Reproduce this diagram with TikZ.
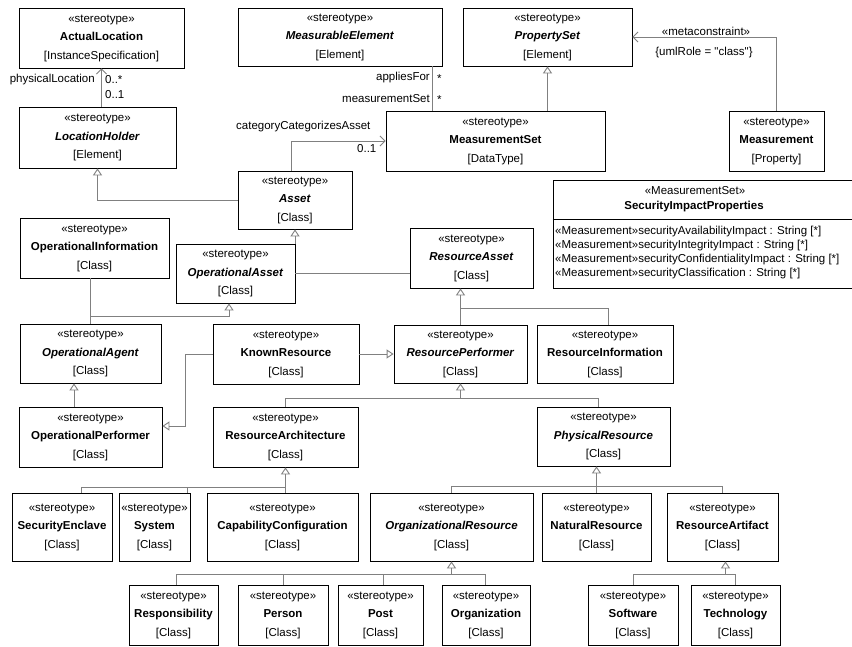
\documentclass[tikz,border=0pt]{standalone}
\usepackage{fontspec}
\setmainfont{Liberation Sans}
\usetikzlibrary{arrows.meta,calc}
\newcommand\ucls[3]{«#1»\\#2\\{}[#3]}
\newcommand\bn[1]{\textbf{#1}}
\newcommand\bi[1]{\textbf{\textit{#1}}}
\begin{document}
\begin{tikzpicture}[x=1pt,y=-1pt,
  cls/.style={draw=black, line width=0.8pt, fill=white, inner sep=0pt, align=center, font=\fontsize{11.5}{18.5}\selectfont},
  conn/.style={draw=gray, line width=0.9pt},
  gen/.style={conn, -{Triangle[length=7pt,width=9pt,fill=white]}},
  assoc/.style={conn, -{Straight Barb[length=5pt,width=10pt]}},
  lbl/.style={font=\fontsize{11.5}{13}\selectfont, inner sep=0pt},
]
\useasboundingbox (0,0) rectangle (852,646);
\fill[white] (0,0) rectangle (852,646);

% row 1
\node[cls, minimum width=165pt, minimum height=60pt] (actual) at (101.5,38) {\ucls{stereotype}{\bn{ActualLocation}}{InstanceSpecification}};
\node[cls, minimum width=204pt, minimum height=58pt] (measurable) at (340,37) {\ucls{stereotype}{\bi{MeasurableElement}}{Element}};
\node[cls, minimum width=169pt, minimum height=58pt] (propset) at (547.5,37) {\ucls{stereotype}{\bi{PropertySet}}{Element}};
% row 2
\node[cls, minimum width=157pt, minimum height=61pt] (locholder) at (97.5,137.5) {\ucls{stereotype}{\bi{LocationHolder}}{Element}};
\node[cls, minimum width=219pt, minimum height=60pt] (measset) at (495.5,141) {\ucls{stereotype}{\bn{MeasurementSet}}{DataType}};
\node[cls, minimum width=95pt, minimum height=60pt] (measurement) at (776.5,141) {\ucls{stereotype}{\bn{Measurement}}{Property}};
\node[cls, minimum width=114pt, minimum height=58pt] (asset) at (295,200) {\ucls{stereotype}{\bi{Asset}}{Class}};
% security impact properties
\node[draw=black, line width=0.8pt, fill=white, inner sep=0pt, minimum width=317pt, minimum height=108pt] (secimp) at (711.5,234) {};
\coordinate (sepy) at (0,219);
\draw[black, line width=0.8pt] (secimp.west |- sepy) -- (secimp.east |- sepy);
\node[lbl] (sh1) at (695,191) {«MeasurementSet»};
\node[lbl] (sh2) at (694,207) {\bn{SecurityImpactProperties}};
\node[lbl, anchor=west] (sa1) at (555,232) {«Measurement»securityAvailabilityImpact : String [*]};
\node[lbl, anchor=west] (sa2) at (555,246) {«Measurement»securityIntegrityImpact : String [*]};
\node[lbl, anchor=west] (sa3) at (555,260) {«Measurement»securityConfidentialityImpact : String [*]};
\node[lbl, anchor=west] (sa4) at (555,274) {«Measurement»securityClassification : String [*]};
% row 3
\node[cls, minimum width=149pt, minimum height=60pt] (opinfo) at (94.5,248) {\ucls{stereotype}{\bn{OperationalInformation}}{Class}};
\node[cls, minimum width=119pt, minimum height=59pt] (opasset) at (235.5,273.5) {\ucls{stereotype}{\bi{OperationalAsset}}{Class}};
\node[cls, minimum width=123pt, minimum height=60pt] (resasset) at (471.5,258) {\ucls{stereotype}{\bi{ResourceAsset}}{Class}};
% row 4
\node[cls, minimum width=141pt, minimum height=59pt] (opagent) at (90.5,353.5) {\ucls{stereotype}{\bi{OperationalAgent}}{Class}};
\node[cls, minimum width=146pt, minimum height=60pt] (known) at (286,354) {\ucls{stereotype}{\bn{KnownResource}}{Class}};
\node[cls, minimum width=133pt, minimum height=58pt] (resperf) at (460.5,354) {\ucls{stereotype}{\bi{ResourcePerformer}}{Class}};
\node[cls, minimum width=136pt, minimum height=58pt] (resinfo) at (605,354) {\ucls{stereotype}{\bn{ResourceInformation}}{Class}};
% row 5
\node[cls, minimum width=143pt, minimum height=60pt] (opperf) at (90.5,437) {\ucls{stereotype}{\bn{OperationalPerformer}}{Class}};
\node[cls, minimum width=145pt, minimum height=60pt] (resarch) at (285.5,437) {\ucls{stereotype}{\bn{ResourceArchitecture}}{Class}};
\node[cls, minimum width=133pt, minimum height=59pt] (physres) at (603.5,436.5) {\ucls{stereotype}{\bi{PhysicalResource}}{Class}};
% row 6
\node[cls, minimum width=100pt, minimum height=68pt] (secencl) at (62,527) {\ucls{stereotype}{\bn{SecurityEnclave}}{Class}};
\node[cls, minimum width=71pt, minimum height=68pt] (system) at (154.5,527) {\ucls{stereotype}{\bn{System}}{Class}};
\node[cls, minimum width=151pt, minimum height=68pt] (capconf) at (282.5,527) {\ucls{stereotype}{\bn{CapabilityConfiguration}}{Class}};
\node[cls, minimum width=163pt, minimum height=68pt] (orgres) at (451.5,527) {\ucls{stereotype}{\bi{OrganizationalResource}}{Class}};
\node[cls, minimum width=109pt, minimum height=68pt] (natres) at (596.5,527) {\ucls{stereotype}{\bn{NaturalResource}}{Class}};
\node[cls, minimum width=111pt, minimum height=68pt] (resart) at (722.5,527) {\ucls{stereotype}{\bn{ResourceArtifact}}{Class}};
% row 7
\node[cls, minimum width=89pt, minimum height=60pt] (resp) at (173.5,615) {\ucls{stereotype}{\bn{Responsibility}}{Class}};
\node[cls, minimum width=90pt, minimum height=60pt] (person) at (283,615) {\ucls{stereotype}{\bn{Person}}{Class}};
\node[cls, minimum width=85pt, minimum height=60pt] (post) at (380.5,615) {\ucls{stereotype}{\bn{Post}}{Class}};
\node[cls, minimum width=88pt, minimum height=60pt] (org) at (486,615) {\ucls{stereotype}{\bn{Organization}}{Class}};
\node[cls, minimum width=90pt, minimum height=60pt] (software) at (633,615) {\ucls{stereotype}{\bn{Software}}{Class}};
\node[cls, minimum width=89pt, minimum height=60pt] (tech) at (735.5,615) {\ucls{stereotype}{\bn{Technology}}{Class}};

% junction coordinates
\coordinate (yA) at (0,316);
\coordinate (yB) at (0,308);
\coordinate (yC) at (0,398);
\coordinate (yD) at (0,487);
\coordinate (yE) at (0,486);
\coordinate (yF) at (0,574);
\coordinate (kr) at (185,426);
\coordinate (ra) at ($(resasset.south)+(-11,0)$);
\coordinate (ri) at ($(resinfo.north)+(3,0)$);
\coordinate (oa) at ($(opasset.south)+(-6.5,0)$);
\coordinate (ag) at ($(opagent.south)+(-16.5,0)$);
\coordinate (pr) at ($(physres.north)+(-5.5,0)$);
\coordinate (se) at ($(secencl.north)+(19,0)$);
\coordinate (sy) at ($(system.north)+(33,0)$);
\coordinate (rp) at ($(resp.north)+(2.5,0)$);
\coordinate (og) at ($(org.north)+(-1,0)$);
\coordinate (po) at ($(post.north)+(2.5,0)$);
\coordinate (rt) at ($(resart.south)+(3,0)$);
\coordinate (at) at ($(asset.north)+(-4,0)$);
\coordinate (mtop) at ($(measurable.south east)+(-10,0)$);

% associations
\draw[assoc] (actual.south |- locholder.north) -- (actual.south);
\node[lbl, anchor=east] (lpl) at (95,80) {physicalLocation};
\node[lbl, anchor=west] (lm1) at (105,80) {0..*};
\node[lbl, anchor=west] (lm2) at (105,95) {0..1};

\draw[conn] (mtop) -- (mtop |- measset.north);
\node[lbl, anchor=east] (lap) at (430,78) {appliesFor};
\node[lbl, anchor=west] (lap2) at (437,79) {*};
\node[lbl, anchor=east] (lms) at (430,99) {measurementSet};
\node[lbl, anchor=west] (lms2) at (437,100) {*};

\draw[assoc] (at) |- (measset.west);
\node[lbl, anchor=west] (lcc) at (236,127) {categoryCategorizesAsset};
\node[lbl, anchor=west] (lcm) at (357,149) {0..1};

\draw[assoc] (measurement.north) |- (propset.east);
\node[lbl] (lmc) at (706,31) {«metaconstraint»};
\node[lbl] (lur) at (704,53) {\{umlRole = \textquotedbl class\textquotedbl\}};

% generalizations
\draw[gen] (propset.south |- measset.north) -- (propset.south);
\draw[gen] (asset.west) -| (locholder.south);
\draw[gen] (asset.south |- opasset.north) -- (asset.south);
\draw[conn] (opasset.east) -- (opasset.east -| resasset.west);

\draw[conn] (opagent.north |- opinfo.south) -- (opagent.north);
\draw[gen] (opagent.north |- yA) -| (oa);

\draw[gen] (resperf.north) -- (resperf.north |- resasset.south);
\draw[conn] (resperf.north |- yB) -| (ri);

\draw[gen] (known.east) -- (known.east -| resperf.west);
\draw[gen] (known.west) -| (kr) -- (kr -| opperf.east);
\draw[gen] (ag |- opperf.north) -- (ag);

\draw[gen] (resperf.south |- yC) -- (resperf.south);
\draw[conn] (resarch.north) |- (pr |- yC) -- (pr);

\draw[gen] (resarch.south |- capconf.north) -- (resarch.south);
\draw[conn] (se) |- (resarch.south |- yD);
\draw[conn] (sy) -- (sy |- yD);

\draw[gen] (natres.north) -- (natres.north |- physres.south);
\draw[conn] (orgres.north) |- (resart.north |- yE) -- (resart.north);

\draw[gen] (orgres.south |- yF) -- (orgres.south);
\draw[conn] (rp) |- (og |- yF) -- (og);
\draw[conn] (person.north) -- (person.north |- yF);
\draw[conn] (po) -- (po |- yF);

\draw[gen] (rt |- yF) -- (rt);
\draw[conn] (software.north) |- (tech.north |- yF) -- (tech.north);
\end{tikzpicture}
\end{document}
